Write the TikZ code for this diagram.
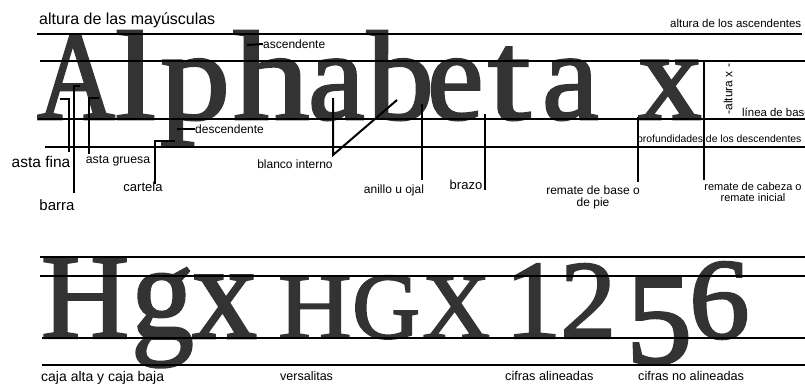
\documentclass[tikz,border=0pt]{standalone}
\usepackage{fontspec}
\setmainfont{Liberation Sans}
\newfontfamily\bigserif[FakeBold=2]{Liberation Serif}
\newcommand\fs[1]{\fontsize{#1}{#1}\selectfont}
\newcommand\hs[2]{\scalebox{#1}[1]{#2}}
\tikzset{
  guide/.style={line width=2pt},
  conn/.style={line width=2pt},
  lbl/.style={inner sep=0pt, text=black},
  gly/.style={inner sep=0pt, anchor=base west, text=black!80},
}
\begin{document}
\begin{tikzpicture}[x=1pt,y=-1pt]
\useasboundingbox (0,0) rectangle (805,383);
% ---------- top row glyphs
\begin{scope}[every node/.append style={gly, font=\bigserif\fs{127}}]
\node (gA) at (37,119) {\hs{0.85}{A}};
\node (gl) at (115,119) {\hs{1.15}{l}};
\node (gp) at (160,119) {\hs{1.1}{p}};
\node (gh) at (233,119) {\hs{1.2}{h}};
\node (ga) at (308,119) {a};
\node (gb) at (367,119) {\hs{1.05}{b}};
\node (ge) at (427,119) {e};
\node (gt) at (488,119) {\hs{1.2}{t}};
\node (ga2) at (542,119) {a};
\node (gx) at (638,119) {x};
\end{scope}
% ---------- bottom row glyphs
\begin{scope}[every node/.append style={gly}]
\node[font=\bigserif\fs{122}] (bH) at (41,338) {H};
\node[font=\bigserif\fs{136}] (bg) at (131,338) {\hs{0.92}{g}};
\node[font=\bigserif\fs{136}] (bx) at (192,338) {\hs{0.95}{x}};
\node[font=\bigserif\fs{94}] (sH) at (278,338) {\hs{1.08}{H}};
\node[font=\bigserif\fs{94}] (sG) at (352,338) {G};
\node[font=\bigserif\fs{94}] (sX) at (422,338) {X};
\node[font=\bigserif\fs{112}] (n1) at (505,338) {1};
\node[font=\bigserif\fs{112}] (n2) at (560,338) {2};
\node[font=\bigserif\fs{132}] (n5) at (626,363) {5};
\node[font=\bigserif\fs{115}] (n6) at (689,338) {\hs{1.05}{6}};
\end{scope}
% ---------- guide lines
\coordinate (t1a) at (37,34);  \coordinate (t1b) at (802,34);
\coordinate (t2a) at (40,61);  \coordinate (t2b) at (805,61);
\coordinate (t3a) at (38,119); \coordinate (t3b) at (805,119);
\coordinate (t4a) at (45,147); \coordinate (t4b) at (805,147);
\draw[guide] (t1a) -- (t1b);
\draw[guide] (t2a) -- (t2b);
\draw[guide] (t3a) -- (t3b);
\draw[guide] (t4a) -- (t4b);
\coordinate (b1a) at (40,257);  \coordinate (b1b) at (805,257);
\coordinate (b2a) at (40,276);  \coordinate (b2b) at (805,276);
\coordinate (b3a) at (42,338);  \coordinate (b3b) at (805,338);
\coordinate (b4a) at (42,365);  \coordinate (b4b) at (805,365);
\draw[guide] (b1a) -- (b1b);
\draw[guide] (b2a) -- (b2b);
\draw[guide] (b3a) -- (b3b);
\draw[guide] (b4a) -- (b4b);
% ---------- labels
\node[lbl, anchor=west, font=\fs{16}] (Lcap) at (39,20) {altura de las mayúsculas};
\node[lbl, anchor=west, font=\fs{11.5}] (Lasc) at (670,23) {altura de los ascendentes};
\node[lbl, anchor=west, font=\fs{12}] (Lascd) at (263,44) {ascendente};
\node[lbl, anchor=west, font=\fs{12}] (Ldesc) at (195,129) {descendente};
\node[lbl, font=\fs{15.5}] (Lfina) at (41,162) {asta fina};
\node[lbl, font=\fs{15}] (Lbarra) at (57,205) {barra};
\node[lbl, font=\fs{12.3}] (Lgruesa) at (118,161) {asta gruesa};
\node[lbl, font=\fs{13}] (Lcartela) at (143,187) {cartela};
\node[lbl, font=\fs{12}] (Lblanco) at (295,164) {blanco interno};
\node[lbl, font=\fs{12}] (Lanillo) at (394,190) {anillo u ojal};
\node[lbl, font=\fs{13}] (Lbrazo) at (466,185) {brazo};
\node[lbl, font=\fs{12}, align=center] (Lbase) at (593,197) {remate de base o\\de pie};
\node[lbl, font=\fs{11}, align=center] (Lcabeza) at (753,192) {remate de cabeza o\\remate inicial};
\node[lbl, anchor=west, font=\fs{10.4}] (Lprof) at (637,140) {profundidades de los descendentes};
\node[lbl, rotate=90, font=\fs{12}] (Lxh) at (728,89) {-altura x -};
\node[lbl, anchor=west, font=\fs{11.4}] (Lbase2) at (742,112) {línea de base};
\node[lbl, anchor=west, font=\fs{14}] (Lcaja) at (41,378) {caja alta y caja baja};
\node[lbl, anchor=west, font=\fs{12.5}] (Lvers) at (280,376) {versalitas};
\node[lbl, anchor=west, font=\fs{12.7}] (Lcal) at (505,376) {cifras alineadas};
\node[lbl, anchor=west, font=\fs{12.7}] (Lcnal) at (638,376) {cifras no alineadas};
% ---------- connectors
\coordinate (af0) at (60,99);  \coordinate (af1) at (69,152);
\draw[conn] (af0) -| (af1);
\coordinate (ba0) at (80,86);  \coordinate (ba1) at (74,193);
\draw[conn] (ba0) -| (ba1);
\coordinate (ag0) at (99,98);  \coordinate (ag1) at (89,154);
\draw[conn] (ag0) -| (ag1);
\coordinate (ca0) at (175,141); \coordinate (ca1) at (155,184);
\draw[conn] (ca0) -| (ca1);
\coordinate (de0) at (177,129);
\draw[conn] (de0) -- (Ldesc.west);
\coordinate (as0) at (247,45);
\draw[conn] (as0) -- (Lascd.west);
\coordinate (bi0) at (333,98); \coordinate (bi1) at (333,155); \coordinate (bi2) at (397,100);
\draw[conn] (bi0) -- (bi1) -- (bi2);
\coordinate (an0) at (422,104); \coordinate (an1) at (422,180);
\draw[conn] (an0) -- (an1);
\coordinate (br0) at (485,114); \coordinate (br1) at (485,190);
\draw[conn] (br0) -- (br1);
\coordinate (rb0) at (638,117); \coordinate (rb1) at (638,182);
\draw[conn] (rb0) -- (rb1);
\coordinate (rc0) at (704,61); \coordinate (rc1) at (704,180);
\draw[conn] (rc0) -- (rc1);
\end{tikzpicture}
\end{document}
